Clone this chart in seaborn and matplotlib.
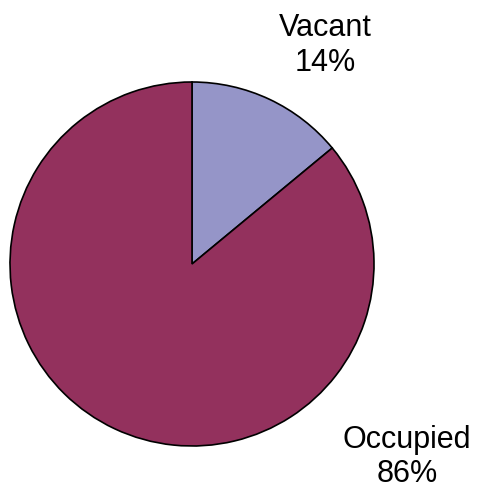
import matplotlib
matplotlib.use("Agg")
import matplotlib.pyplot as plt
import seaborn as sns

# ---- data ----
categories = ["Vacant", "Occupied"]
shares = [14, 86]
colors = ["#9595c8", "#93315d"]
# label anchor positions (in pie radius units)
label_x = [0.73, 1.18]
label_y = [1.20, -1.06]

sns.set_theme(style="white")
plt.rcParams['font.family'] = ['Liberation Sans', 'DejaVu Sans']

fig = plt.figure(figsize=(4.78, 4.88), dpi=100)
ax = fig.add_axes([10 / 478, 42 / 488, 364 / 478, 364 / 488])

ax.pie(shares, colors=colors, startangle=90, counterclock=False,
       wedgeprops={"edgecolor": "black", "linewidth": 1.2})
ax.set_xlim(-1, 1)
ax.set_ylim(-1, 1)
ax.set_aspect("equal")
ax.axis("off")

for cat, val, x, y in zip(categories, shares, label_x, label_y):
    ax.text(x, y, f"{cat}\n{val}%", ha="center", va="center",
            fontsize=22, color="black", linespacing=1.2, clip_on=False)

fig.savefig("out.png", dpi=100)
plt.close(fig)
